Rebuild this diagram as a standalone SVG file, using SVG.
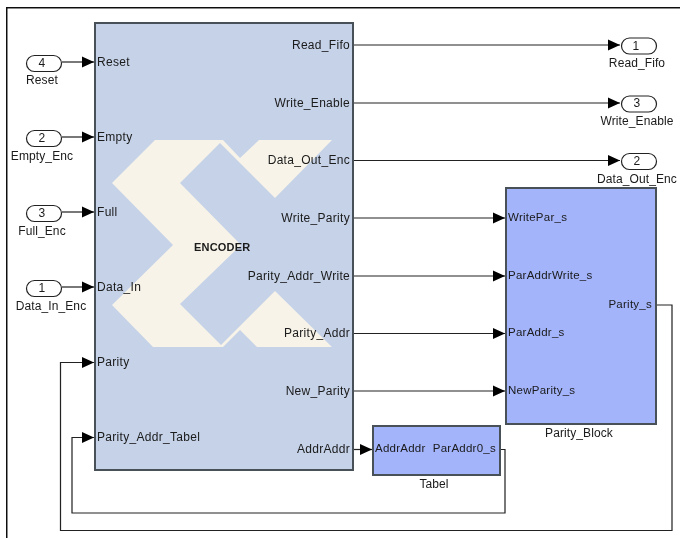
<svg xmlns="http://www.w3.org/2000/svg" width="680" height="538" viewBox="0 0 680 538">
<style>
text{font-family:"Liberation Sans",Arial,sans-serif;font-size:12px;letter-spacing:.3px;fill:#1a1a1a}
.m{text-anchor:middle;letter-spacing:.1px}.e{text-anchor:end}
.b{stroke:#4a5158;stroke-width:2}
.c{fill:none;stroke:#222;stroke-width:1.2}
.p{fill:#fff;stroke:#222;stroke-width:1.2}
.k{fill:#f7f3e8}
.s{font-size:11.5px;letter-spacing:.25px}
</style>
<defs>
<marker id="a" markerUnits="userSpaceOnUse" markerWidth="13" markerHeight="12" refX="12" refY="6" orient="auto"><path d="M0 .5L12 6L0 11.500Z" fill="#000"/></marker>
<filter id="soft" x="0" y="0" width="100%" height="100%"><feGaussianBlur stdDeviation="0.35"/></filter>
</defs>
<rect width="680" height="538" fill="#fff"/>
<g filter="url(#soft)">
<path d="M6.500 538V7.500H680" fill="none" stroke="#111" stroke-width="2"/>
<g id="encoder">
<rect class="b" x="95" y="23" width="258" height="447" fill="#c5d2e8"/>
<path class="k" d="M155 140H223L240 158L259 140H332L275 198L220 143L180 183L241 245L180 304L221 345L275 291L332 347H257L240 330L223 347H153L112 305L173 245L112 183Z"/>
<text x="97" y="66">Reset</text>
<text x="97" y="141">Empty</text>
<text x="97" y="216">Full</text>
<text x="97" y="291">Data_In</text>
<text x="97" y="366">Parity</text>
<text x="97" y="441">Parity_Addr_Tabel</text>
<text class="e" x="350" y="49">Read_Fifo</text>
<text class="e" x="350" y="107">Write_Enable</text>
<text class="e" x="350" y="164">Data_Out_Enc</text>
<text class="e" x="350" y="222">Write_Parity</text>
<text class="e" x="350" y="280">Parity_Addr_Write</text>
<text class="e" x="350" y="337">Parity_Addr</text>
<text class="e" x="350" y="395">New_Parity</text>
<text class="e" x="350" y="453">AddrAddr</text>
<text x="194" y="251" font-weight="bold" style="font-size:11px;letter-spacing:.2px">ENCODER</text>
</g>
<g id="parity-block">
<rect class="b" x="506" y="188" width="150" height="236" fill="#a3b4fb"/>
<text class="s" x="508" y="221">WritePar_s</text>
<text class="s" x="508" y="279">ParAddrWrite_s</text>
<text class="s" x="508" y="336">ParAddr_s</text>
<text class="s" x="508" y="394">NewParity_s</text>
<text class="s e" x="652" y="308">Parity_s</text>
<text class="m" x="579" y="437">Parity_Block</text>
</g>
<g id="tabel">
<rect class="b" x="373" y="426" width="127" height="49" fill="#a3b4fb"/>
<text class="s" x="375" y="452">AddrAddr</text>
<text class="s e" x="496" y="452">ParAddr0_s</text>
<text class="m" x="434" y="488">Tabel</text>
</g>
<g id="in-reset"><rect class="p" x="26.500" y="55.500" width="35" height="16" rx="8"/><text class="m" x="42" y="67">4</text><text class="m" x="42" y="84">Reset</text></g>
<g id="in-empty"><rect class="p" x="26.500" y="130.500" width="35" height="16" rx="8"/><text class="m" x="42" y="142">2</text><text class="m" x="42" y="160">Empty_Enc</text></g>
<g id="in-full"><rect class="p" x="26.500" y="205.500" width="35" height="16" rx="8"/><text class="m" x="42" y="217">3</text><text class="m" x="42" y="235">Full_Enc</text></g>
<g id="in-data"><rect class="p" x="26.500" y="280.500" width="35" height="16" rx="8"/><text class="m" x="42" y="292">1</text><text class="m" x="51" y="310">Data_In_Enc</text></g>
<g id="out-read"><rect class="p" x="621.500" y="38" width="35" height="16" rx="8"/><text class="m" x="636" y="50">1</text><text class="m" x="637" y="67">Read_Fifo</text></g>
<g id="out-write"><rect class="p" x="621.500" y="96" width="35" height="16" rx="8"/><text class="m" x="637" y="107">3</text><text class="m" x="637" y="125">Write_Enable</text></g>
<g id="out-data"><rect class="p" x="621.500" y="153.500" width="35" height="16" rx="8"/><text class="m" x="637" y="165">2</text><text class="m" x="637" y="183">Data_Out_Enc</text></g>
<g id="connectors">
<path class="c" marker-end="url(#a)" d="M62 62H94"/>
<path class="c" marker-end="url(#a)" d="M62 137H94"/>
<path class="c" marker-end="url(#a)" d="M62 212H94"/>
<path class="c" marker-end="url(#a)" d="M62 287H94"/>
<path class="c" marker-end="url(#a)" d="M354 45H620"/>
<path class="c" marker-end="url(#a)" d="M354 103H620"/>
<path class="c" marker-end="url(#a)" d="M354 160.500H620"/>
<path class="c" marker-end="url(#a)" d="M354 218H505"/>
<path class="c" marker-end="url(#a)" d="M354 276H505"/>
<path class="c" marker-end="url(#a)" d="M354 333.500H505"/>
<path class="c" marker-end="url(#a)" d="M354 391H505"/>
<path class="c" marker-end="url(#a)" d="M354 449.500H372"/>
<path class="c" marker-end="url(#a)" d="M657 305H672V530.500H60.500V362.500H94"/>
<path class="c" marker-end="url(#a)" d="M501 449.500H505V513H72V437.500H94"/>
</g>
</g>
</svg>
